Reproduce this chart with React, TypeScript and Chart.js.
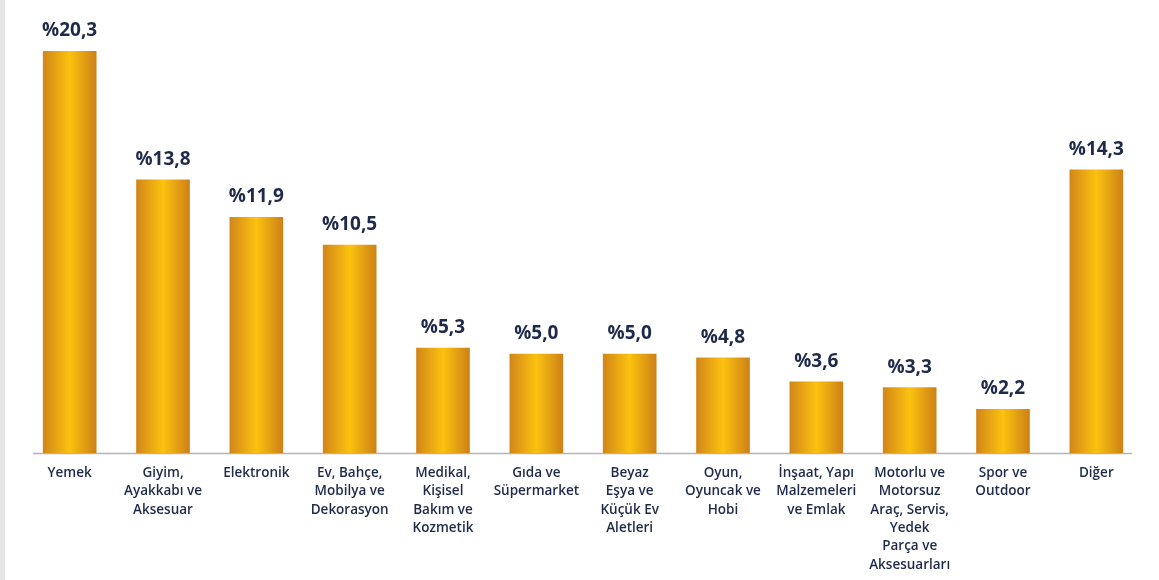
import React, { useEffect, useRef } from "react";
import { Chart, registerables } from "chart.js";

Chart.register(...registerables);

const categories: (string | string[])[] = [
  "Yemek",
  ["Giyim,", "Ayakkabı ve", "Aksesuar"],
  "Elektronik",
  ["Ev, Bahçe,", "Mobilya ve", "Dekorasyon"],
  ["Medikal,", "Kişisel", "Bakım ve", "Kozmetik"],
  ["Gıda ve", "Süpermarket"],
  ["Beyaz", "Eşya ve", "Küçük Ev", "Aletleri"],
  ["Oyun,", "Oyuncak ve", "Hobi"],
  ["İnşaat, Yapı", "Malzemeleri", "ve Emlak"],
  ["Motorlu ve", "Motorsuz", "Araç, Servis,", "Yedek", "Parça ve", "Aksesuarları"],
  ["Spor ve", "Outdoor"],
  "Diğer",
];

const shares: number[] = [20.3, 13.8, 11.9, 10.5, 5.3, 5.0, 5.0, 4.8, 3.6, 3.3, 2.2, 14.3];

const FONT = "'Open Sans', 'Noto Sans', sans-serif";
const NAVY = "#1e2a4a";
const BAR_W = 53;

const valueLabels = {
  id: "valueLabels",
  afterDatasetsDraw(chart: any) {
    const ctx = chart.ctx;
    const meta = chart.getDatasetMeta(0);
    ctx.save();
    ctx.fillStyle = NAVY;
    ctx.font = `700 19px ${FONT}`;
    ctx.textAlign = "center";
    ctx.textBaseline = "alphabetic";
    meta.data.forEach((el: any, i: number) => {
      const txt = "%" + shares[i].toFixed(1).replace(".", ",");
      ctx.fillText(txt, el.x, el.y - 15);
    });
    ctx.restore();
  },
};

const baseLine = {
  id: "baseLine",
  beforeDatasetsDraw(chart: any) {
    const { ctx, chartArea } = chart;
    ctx.save();
    ctx.strokeStyle = "#b4b4b4";
    ctx.lineWidth = 1.5;
    ctx.beginPath();
    ctx.moveTo(chartArea.left + 10, chartArea.bottom + 0.5);
    ctx.lineTo(chartArea.right - 11, chartArea.bottom + 0.5);
    ctx.stroke();
    ctx.restore();
  },
};

export default function App() {
  const ref = useRef<HTMLCanvasElement>(null);

  useEffect(() => {
    if (!ref.current) return;
    const chart = new Chart(ref.current, {
      type: "bar",
      data: {
        labels: categories as any,
        datasets: [
          {
            data: shares,
            barThickness: BAR_W,
            borderWidth: 0,
            backgroundColor: (c: any) => {
              const ch = c.chart;
              if (!ch.chartArea || c.dataIndex === undefined) return "#eeaa14";
              const x = ch.scales.x.getPixelForValue(c.dataIndex);
              const g = ch.ctx.createLinearGradient(x - BAR_W / 2, 0, x + BAR_W / 2, 0);
              g.addColorStop(0, "#d2861a");
              g.addColorStop(0.5, "#fcc20e");
              g.addColorStop(1, "#cd8118");
              return g;
            },
          } as any,
        ],
      },
      options: {
        responsive: false,
        animation: false,
        events: [],
        layout: { padding: { top: 51, left: 23, right: 16, bottom: 0 } },
        plugins: {
          legend: { display: false },
          tooltip: { enabled: false },
        },
        scales: {
          x: {
            grid: { display: false, drawTicks: false },
            border: { display: false },
            ticks: {
              autoSkip: false,
              maxRotation: 0,
              minRotation: 0,
              padding: 11,
              color: NAVY,
              font: { family: FONT, size: 13.5, weight: 600 as any, lineHeight: 1.36 },
            },
            afterFit: (axis: any) => {
              axis.height = 127;
            },
          },
          y: {
            display: false,
            min: 0,
            max: 20.3,
          },
        },
      },
      plugins: [baseLine, valueLabels],
    });
    return () => chart.destroy();
  }, []);

  return (
    <div
      style={{
        position: "fixed",
        left: 0,
        top: 0,
        width: 1159,
        height: 580,
        background: "#ffffff",
        overflow: "hidden",
      }}
    >
      <div
        style={{ position: "absolute", left: 0, top: 0, width: 5, height: 580, background: "#e6e6e6" }}
      />
      <canvas ref={ref} width={1159} height={580} style={{ position: "absolute", left: 0, top: 0 }} />
    </div>
  );
}
